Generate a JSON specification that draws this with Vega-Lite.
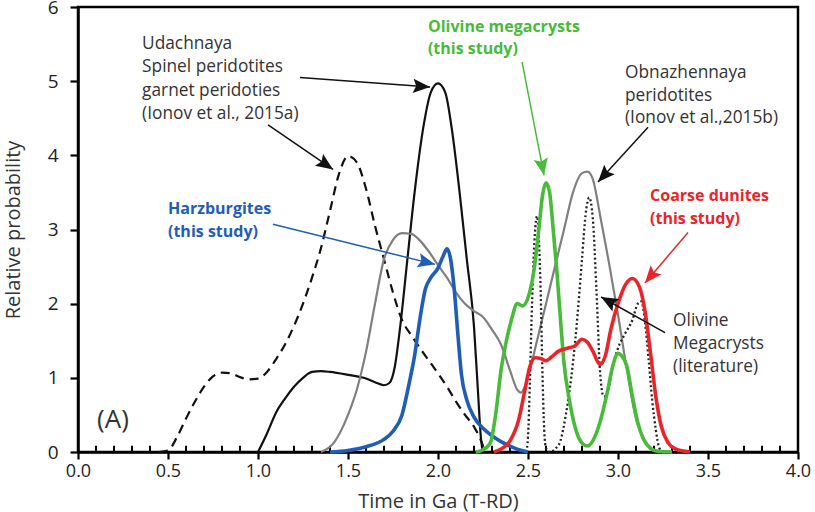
{
  "$schema": "https://vega.github.io/schema/vega-lite/v6.json",
  "width": 720,
  "height": 445,
  "autosize": "none",
  "padding": {"left": 78, "top": 7, "right": 17, "bottom": 60},
  "background": "white",
  "config": {
    "view": {"stroke": "black", "strokeWidth": 2.5},
    "font": "Open Sans",
    "axis": {"grid": false, "labelFont": "Open Sans", "titleFont": "Open Sans", "labelColor": "#222222", "titleColor": "#333333", "titleFontWeight": "normal", "domainColor": "black", "tickColor": "black"}
  },
  "datasets": {
    "curves": [
      {"s": "spinel", "t": 0.45, "p": 0}, {"s": "spinel", "t": 0.5, "p": 0.02}, {"s": "spinel", "t": 0.55, "p": 0.2}, {"s": "spinel", "t": 0.6, "p": 0.45},
      {"s": "spinel", "t": 0.65, "p": 0.68}, {"s": "spinel", "t": 0.7, "p": 0.88}, {"s": "spinel", "t": 0.75, "p": 1.02}, {"s": "spinel", "t": 0.8, "p": 1.07},
      {"s": "spinel", "t": 0.85, "p": 1.06}, {"s": "spinel", "t": 0.9, "p": 1.01}, {"s": "spinel", "t": 0.95, "p": 0.98}, {"s": "spinel", "t": 1.0, "p": 0.99},
      {"s": "spinel", "t": 1.05, "p": 1.08}, {"s": "spinel", "t": 1.1, "p": 1.25}, {"s": "spinel", "t": 1.15, "p": 1.45}, {"s": "spinel", "t": 1.2, "p": 1.7},
      {"s": "spinel", "t": 1.25, "p": 2.0}, {"s": "spinel", "t": 1.3, "p": 2.35}, {"s": "spinel", "t": 1.35, "p": 2.75}, {"s": "spinel", "t": 1.4, "p": 3.25},
      {"s": "spinel", "t": 1.45, "p": 3.75}, {"s": "spinel", "t": 1.5, "p": 3.99}, {"s": "spinel", "t": 1.55, "p": 3.9}, {"s": "spinel", "t": 1.6, "p": 3.55},
      {"s": "spinel", "t": 1.65, "p": 3.05}, {"s": "spinel", "t": 1.7, "p": 2.6}, {"s": "spinel", "t": 1.75, "p": 2.15}, {"s": "spinel", "t": 1.8, "p": 1.78},
      {"s": "spinel", "t": 1.85, "p": 1.58}, {"s": "spinel", "t": 1.9, "p": 1.4}, {"s": "spinel", "t": 1.95, "p": 1.23}, {"s": "spinel", "t": 2.0, "p": 1.06},
      {"s": "spinel", "t": 2.05, "p": 0.88}, {"s": "spinel", "t": 2.1, "p": 0.68}, {"s": "spinel", "t": 2.15, "p": 0.5}, {"s": "spinel", "t": 2.2, "p": 0.34},
      {"s": "spinel", "t": 2.25, "p": 0.08}, {"s": "spinel", "t": 2.26, "p": 0},

      {"s": "garnet", "t": 1.0, "p": 0}, {"s": "garnet", "t": 1.05, "p": 0.25}, {"s": "garnet", "t": 1.1, "p": 0.53}, {"s": "garnet", "t": 1.15, "p": 0.72},
      {"s": "garnet", "t": 1.2, "p": 0.88}, {"s": "garnet", "t": 1.25, "p": 1.0}, {"s": "garnet", "t": 1.3, "p": 1.08}, {"s": "garnet", "t": 1.35, "p": 1.09},
      {"s": "garnet", "t": 1.4, "p": 1.08}, {"s": "garnet", "t": 1.5, "p": 1.04}, {"s": "garnet", "t": 1.6, "p": 0.99}, {"s": "garnet", "t": 1.65, "p": 0.94},
      {"s": "garnet", "t": 1.7, "p": 0.9}, {"s": "garnet", "t": 1.73, "p": 0.93}, {"s": "garnet", "t": 1.76, "p": 1.15}, {"s": "garnet", "t": 1.79, "p": 1.69},
      {"s": "garnet", "t": 1.83, "p": 2.6}, {"s": "garnet", "t": 1.87, "p": 3.5}, {"s": "garnet", "t": 1.92, "p": 4.4}, {"s": "garnet", "t": 1.96, "p": 4.85},
      {"s": "garnet", "t": 2.0, "p": 4.97}, {"s": "garnet", "t": 2.04, "p": 4.85}, {"s": "garnet", "t": 2.08, "p": 4.3}, {"s": "garnet", "t": 2.12, "p": 3.5},
      {"s": "garnet", "t": 2.16, "p": 2.6}, {"s": "garnet", "t": 2.2, "p": 1.69}, {"s": "garnet", "t": 2.22, "p": 0.9}, {"s": "garnet", "t": 2.24, "p": 0.15},
      {"s": "garnet", "t": 2.25, "p": 0},

      {"s": "obn", "t": 1.35, "p": 0}, {"s": "obn", "t": 1.42, "p": 0.12}, {"s": "obn", "t": 1.5, "p": 0.5}, {"s": "obn", "t": 1.55, "p": 0.85},
      {"s": "obn", "t": 1.6, "p": 1.35}, {"s": "obn", "t": 1.65, "p": 2.0}, {"s": "obn", "t": 1.7, "p": 2.6}, {"s": "obn", "t": 1.75, "p": 2.86},
      {"s": "obn", "t": 1.8, "p": 2.95}, {"s": "obn", "t": 1.85, "p": 2.94}, {"s": "obn", "t": 1.9, "p": 2.85}, {"s": "obn", "t": 1.95, "p": 2.7},
      {"s": "obn", "t": 2.0, "p": 2.52}, {"s": "obn", "t": 2.05, "p": 2.35}, {"s": "obn", "t": 2.1, "p": 2.15}, {"s": "obn", "t": 2.15, "p": 2.0},
      {"s": "obn", "t": 2.2, "p": 1.9}, {"s": "obn", "t": 2.25, "p": 1.82}, {"s": "obn", "t": 2.3, "p": 1.65}, {"s": "obn", "t": 2.35, "p": 1.45},
      {"s": "obn", "t": 2.4, "p": 1.1}, {"s": "obn", "t": 2.44, "p": 0.84}, {"s": "obn", "t": 2.46, "p": 0.8}, {"s": "obn", "t": 2.49, "p": 0.93},
      {"s": "obn", "t": 2.55, "p": 1.5}, {"s": "obn", "t": 2.6, "p": 2.0}, {"s": "obn", "t": 2.65, "p": 2.5}, {"s": "obn", "t": 2.7, "p": 3.0},
      {"s": "obn", "t": 2.75, "p": 3.5}, {"s": "obn", "t": 2.8, "p": 3.76}, {"s": "obn", "t": 2.83, "p": 3.78}, {"s": "obn", "t": 2.86, "p": 3.68},
      {"s": "obn", "t": 2.9, "p": 3.2}, {"s": "obn", "t": 2.95, "p": 2.55}, {"s": "obn", "t": 3.0, "p": 1.85}, {"s": "obn", "t": 3.05, "p": 1.1},
      {"s": "obn", "t": 3.1, "p": 0.45}, {"s": "obn", "t": 3.15, "p": 0.15}, {"s": "obn", "t": 3.2, "p": 0.03}, {"s": "obn", "t": 3.25, "p": 0},

      {"s": "olmeg_lit", "t": 2.49, "p": 0}, {"s": "olmeg_lit", "t": 2.5, "p": 0.2}, {"s": "olmeg_lit", "t": 2.51, "p": 0.9}, {"s": "olmeg_lit", "t": 2.52, "p": 1.8},
      {"s": "olmeg_lit", "t": 2.535, "p": 2.8}, {"s": "olmeg_lit", "t": 2.55, "p": 3.18}, {"s": "olmeg_lit", "t": 2.56, "p": 2.9}, {"s": "olmeg_lit", "t": 2.57, "p": 2.2},
      {"s": "olmeg_lit", "t": 2.58, "p": 1.1}, {"s": "olmeg_lit", "t": 2.59, "p": 0.3}, {"s": "olmeg_lit", "t": 2.6, "p": 0.05}, {"s": "olmeg_lit", "t": 2.62, "p": 0},
      {"s": "olmeg_lit", "t": 2.65, "p": 0.04}, {"s": "olmeg_lit", "t": 2.68, "p": 0.15}, {"s": "olmeg_lit", "t": 2.71, "p": 0.5}, {"s": "olmeg_lit", "t": 2.74, "p": 1.0},
      {"s": "olmeg_lit", "t": 2.77, "p": 1.7}, {"s": "olmeg_lit", "t": 2.8, "p": 2.6}, {"s": "olmeg_lit", "t": 2.82, "p": 3.2}, {"s": "olmeg_lit", "t": 2.84, "p": 3.43},
      {"s": "olmeg_lit", "t": 2.86, "p": 3.15}, {"s": "olmeg_lit", "t": 2.88, "p": 2.2}, {"s": "olmeg_lit", "t": 2.9, "p": 1.1}, {"s": "olmeg_lit", "t": 2.92, "p": 0.75},
      {"s": "olmeg_lit", "t": 2.94, "p": 0.78}, {"s": "olmeg_lit", "t": 2.97, "p": 1.15}, {"s": "olmeg_lit", "t": 3.0, "p": 1.4}, {"s": "olmeg_lit", "t": 3.04, "p": 1.6},
      {"s": "olmeg_lit", "t": 3.08, "p": 1.78}, {"s": "olmeg_lit", "t": 3.11, "p": 2.0}, {"s": "olmeg_lit", "t": 3.13, "p": 2.03}, {"s": "olmeg_lit", "t": 3.15, "p": 1.75},
      {"s": "olmeg_lit", "t": 3.17, "p": 1.25}, {"s": "olmeg_lit", "t": 3.19, "p": 0.7}, {"s": "olmeg_lit", "t": 3.21, "p": 0.3}, {"s": "olmeg_lit", "t": 3.23, "p": 0.05},
      {"s": "olmeg_lit", "t": 3.25, "p": 0},

      {"s": "harz", "t": 1.4, "p": 0}, {"s": "harz", "t": 1.5, "p": 0.02}, {"s": "harz", "t": 1.6, "p": 0.07}, {"s": "harz", "t": 1.7, "p": 0.17},
      {"s": "harz", "t": 1.75, "p": 0.28}, {"s": "harz", "t": 1.8, "p": 0.5}, {"s": "harz", "t": 1.84, "p": 0.93}, {"s": "harz", "t": 1.87, "p": 1.3},
      {"s": "harz", "t": 1.9, "p": 1.8}, {"s": "harz", "t": 1.93, "p": 2.2}, {"s": "harz", "t": 1.96, "p": 2.35}, {"s": "harz", "t": 2.0, "p": 2.48},
      {"s": "harz", "t": 2.03, "p": 2.65}, {"s": "harz", "t": 2.05, "p": 2.74}, {"s": "harz", "t": 2.07, "p": 2.6}, {"s": "harz", "t": 2.09, "p": 2.2},
      {"s": "harz", "t": 2.11, "p": 1.6}, {"s": "harz", "t": 2.13, "p": 1.05}, {"s": "harz", "t": 2.16, "p": 0.7}, {"s": "harz", "t": 2.2, "p": 0.47},
      {"s": "harz", "t": 2.25, "p": 0.32}, {"s": "harz", "t": 2.3, "p": 0.22}, {"s": "harz", "t": 2.35, "p": 0.14}, {"s": "harz", "t": 2.4, "p": 0.08},
      {"s": "harz", "t": 2.45, "p": 0.03}, {"s": "harz", "t": 2.5, "p": 0},

      {"s": "olmeg", "t": 2.21, "p": 0}, {"s": "olmeg", "t": 2.25, "p": 0.03}, {"s": "olmeg", "t": 2.29, "p": 0.12}, {"s": "olmeg", "t": 2.32, "p": 0.5},
      {"s": "olmeg", "t": 2.35, "p": 1.1}, {"s": "olmeg", "t": 2.38, "p": 1.5}, {"s": "olmeg", "t": 2.41, "p": 1.8}, {"s": "olmeg", "t": 2.44, "p": 2.0},
      {"s": "olmeg", "t": 2.47, "p": 1.97}, {"s": "olmeg", "t": 2.5, "p": 2.08}, {"s": "olmeg", "t": 2.53, "p": 2.4}, {"s": "olmeg", "t": 2.56, "p": 3.0},
      {"s": "olmeg", "t": 2.58, "p": 3.45}, {"s": "olmeg", "t": 2.6, "p": 3.63}, {"s": "olmeg", "t": 2.62, "p": 3.5}, {"s": "olmeg", "t": 2.64, "p": 3.0},
      {"s": "olmeg", "t": 2.66, "p": 2.45}, {"s": "olmeg", "t": 2.68, "p": 1.8}, {"s": "olmeg", "t": 2.7, "p": 1.2}, {"s": "olmeg", "t": 2.73, "p": 0.7},
      {"s": "olmeg", "t": 2.76, "p": 0.35}, {"s": "olmeg", "t": 2.8, "p": 0.12}, {"s": "olmeg", "t": 2.83, "p": 0.08}, {"s": "olmeg", "t": 2.86, "p": 0.15},
      {"s": "olmeg", "t": 2.9, "p": 0.4}, {"s": "olmeg", "t": 2.94, "p": 0.8}, {"s": "olmeg", "t": 2.97, "p": 1.15}, {"s": "olmeg", "t": 3.0, "p": 1.33},
      {"s": "olmeg", "t": 3.02, "p": 1.3}, {"s": "olmeg", "t": 3.05, "p": 1.15}, {"s": "olmeg", "t": 3.08, "p": 0.75}, {"s": "olmeg", "t": 3.11, "p": 0.4},
      {"s": "olmeg", "t": 3.14, "p": 0.18}, {"s": "olmeg", "t": 3.18, "p": 0.05}, {"s": "olmeg", "t": 3.22, "p": 0.01}, {"s": "olmeg", "t": 3.3, "p": 0},

      {"s": "dunite", "t": 2.31, "p": 0}, {"s": "dunite", "t": 2.35, "p": 0.04}, {"s": "dunite", "t": 2.4, "p": 0.15}, {"s": "dunite", "t": 2.45, "p": 0.45},
      {"s": "dunite", "t": 2.48, "p": 0.8}, {"s": "dunite", "t": 2.51, "p": 1.15}, {"s": "dunite", "t": 2.54, "p": 1.27}, {"s": "dunite", "t": 2.57, "p": 1.26},
      {"s": "dunite", "t": 2.6, "p": 1.23}, {"s": "dunite", "t": 2.63, "p": 1.28}, {"s": "dunite", "t": 2.67, "p": 1.36}, {"s": "dunite", "t": 2.72, "p": 1.4},
      {"s": "dunite", "t": 2.76, "p": 1.43}, {"s": "dunite", "t": 2.8, "p": 1.52}, {"s": "dunite", "t": 2.83, "p": 1.48}, {"s": "dunite", "t": 2.86, "p": 1.36},
      {"s": "dunite", "t": 2.9, "p": 1.18}, {"s": "dunite", "t": 2.93, "p": 1.3}, {"s": "dunite", "t": 2.96, "p": 1.65}, {"s": "dunite", "t": 3.0, "p": 2.0},
      {"s": "dunite", "t": 3.04, "p": 2.25}, {"s": "dunite", "t": 3.08, "p": 2.34}, {"s": "dunite", "t": 3.12, "p": 2.22}, {"s": "dunite", "t": 3.15, "p": 1.9},
      {"s": "dunite", "t": 3.18, "p": 1.35}, {"s": "dunite", "t": 3.21, "p": 0.75}, {"s": "dunite", "t": 3.24, "p": 0.35}, {"s": "dunite", "t": 3.28, "p": 0.12},
      {"s": "dunite", "t": 3.32, "p": 0.04}, {"s": "dunite", "t": 3.4, "p": 0}
    ],
    "minorTicks": [
      {"t": 0.1}, {"t": 0.2}, {"t": 0.3}, {"t": 0.4}, {"t": 0.6}, {"t": 0.7}, {"t": 0.8}, {"t": 0.9},
      {"t": 1.1}, {"t": 1.2}, {"t": 1.3}, {"t": 1.4}, {"t": 1.6}, {"t": 1.7}, {"t": 1.8}, {"t": 1.9},
      {"t": 2.1}, {"t": 2.2}, {"t": 2.3}, {"t": 2.4}, {"t": 2.6}, {"t": 2.7}, {"t": 2.8}, {"t": 2.9},
      {"t": 3.1}, {"t": 3.2}, {"t": 3.3}, {"t": 3.4}, {"t": 3.6}, {"t": 3.7}, {"t": 3.8}, {"t": 3.9}
    ],
    "arrows": [
      {"ref": "lit", "x1": 1.233, "y1": 5.05, "x2": 1.956, "y2": 4.92},
      {"ref": "lit", "x1": 1.056, "y1": 4.41, "x2": 1.417, "y2": 3.81},
      {"ref": "harz", "x1": 1.083, "y1": 3.07, "x2": 1.983, "y2": 2.53},
      {"ref": "olmeg", "x1": 2.467, "y1": 5.26, "x2": 2.589, "y2": 3.73},
      {"ref": "lit", "x1": 3.167, "y1": 4.38, "x2": 2.889, "y2": 3.64},
      {"ref": "dunite", "x1": 3.389, "y1": 2.96, "x2": 3.15, "y2": 2.28},
      {"ref": "lit", "x1": 3.261, "y1": 1.61, "x2": 2.906, "y2": 2.09}
    ],
    "notes": [
      {"ref": "lit", "x": 0.356, "y": 5.5, "text": "Udachnaya"},
      {"ref": "lit", "x": 0.356, "y": 5.19, "text": "Spinel peridotites"},
      {"ref": "lit", "x": 0.356, "y": 4.87, "text": "garnet peridoties"},
      {"ref": "lit", "x": 0.356, "y": 4.56, "text": "(Ionov et al., 2015a)"},
      {"ref": "lit", "x": 3.039, "y": 5.11, "text": "Obnazhennaya"},
      {"ref": "lit", "x": 3.039, "y": 4.8, "text": "peridotites"},
      {"ref": "lit", "x": 3.039, "y": 4.51, "text": "(Ionov et al.,2015b)"},
      {"ref": "lit", "x": 3.306, "y": 1.76, "text": "Olivine"},
      {"ref": "lit", "x": 3.306, "y": 1.45, "text": "Megacrysts"},
      {"ref": "lit", "x": 3.306, "y": 1.14, "text": "(literature)"}
    ],
    "studyNotes": [
      {"ref": "harz", "x": 0.5, "y": 3.27, "text": "Harzburgites"},
      {"ref": "harz", "x": 0.5, "y": 2.97, "text": "(this study)"},
      {"ref": "olmeg", "x": 1.944, "y": 5.73, "text": "Olivine megacrysts"},
      {"ref": "olmeg", "x": 1.944, "y": 5.43, "text": "(this study)"},
      {"ref": "dunite", "x": 3.178, "y": 3.45, "text": "Coarse dunites"},
      {"ref": "dunite", "x": 3.178, "y": 3.14, "text": "(this study)"}
    ],
    "panel": [{"x": 0.106, "y": 0.43, "text": "(A)"}]
  },
  "layer": [
    {
      "data": {"name": "curves"},
      "transform": [{"filter": "datum.s === 'spinel'"}],
      "mark": {"type": "line", "color": "#111111", "strokeWidth": 2.2, "strokeDash": [9, 6], "interpolate": "monotone"},
      "encoding": {
        "x": {"field": "t", "type": "quantitative", "scale": {"domain": [0, 4], "nice": false},
          "axis": {"values": [0, 0.5, 1, 1.5, 2, 2.5, 3, 3.5, 4], "format": ".1f", "title": "Time in Ga (T-RD)",
            "labelFontSize": 18, "titleFontSize": 20, "tickSize": 7, "tickWidth": 2.2, "domainWidth": 2.5,
            "labelPadding": 3, "titlePadding": 11, "labelFlush": false}},
        "y": {"field": "p", "type": "quantitative", "scale": {"domain": [0, 6], "nice": false},
          "axis": {"values": [0, 1, 2, 3, 4, 5, 6], "format": "d", "title": "Relative probability", "labelFontSize": 19, "titleFontSize": 20,
            "tickSize": 8, "tickWidth": 2.2, "domainWidth": 2.5, "labelPadding": 12, "titlePadding": 24, "labelFlush": false}}
      }
    },
    {
      "data": {"name": "minorTicks"},
      "mark": {"type": "rule", "color": "#000000", "strokeWidth": 2, "opacity": 1},
      "encoding": {
        "x": {"field": "t", "type": "quantitative"},
        "y": {"datum": 0, "type": "quantitative"},
        "y2": {"datum": 0.085}
      }
    },
    {
      "data": {"name": "curves"},
      "transform": [{"filter": "datum.s === 'garnet'"}],
      "mark": {"type": "line", "color": "#111111", "strokeWidth": 2.2, "interpolate": "monotone"},
      "encoding": {"x": {"field": "t", "type": "quantitative"}, "y": {"field": "p", "type": "quantitative"}}
    },
    {
      "data": {"name": "curves"},
      "transform": [{"filter": "datum.s === 'obn'"}],
      "mark": {"type": "line", "color": "#7f7f7f", "strokeWidth": 2.2, "interpolate": "monotone"},
      "encoding": {"x": {"field": "t", "type": "quantitative"}, "y": {"field": "p", "type": "quantitative"}}
    },
    {
      "data": {"name": "curves"},
      "transform": [{"filter": "datum.s === 'olmeg_lit'"}],
      "mark": {"type": "line", "color": "#222222", "strokeWidth": 2.3, "strokeDash": [2, 2.5], "interpolate": "monotone"},
      "encoding": {"x": {"field": "t", "type": "quantitative"}, "y": {"field": "p", "type": "quantitative"}}
    },
    {
      "data": {"name": "curves"},
      "transform": [{"filter": "datum.s === 'harz'"}],
      "mark": {"type": "line", "color": "#1f5db8", "strokeWidth": 3.6, "interpolate": "monotone"},
      "encoding": {"x": {"field": "t", "type": "quantitative"}, "y": {"field": "p", "type": "quantitative"}}
    },
    {
      "data": {"name": "curves"},
      "transform": [{"filter": "datum.s === 'olmeg'"}],
      "mark": {"type": "line", "color": "#48bb3a", "strokeWidth": 3.6, "interpolate": "monotone"},
      "encoding": {"x": {"field": "t", "type": "quantitative"}, "y": {"field": "p", "type": "quantitative"}}
    },
    {
      "data": {"name": "curves"},
      "transform": [{"filter": "datum.s === 'dunite'"}],
      "mark": {"type": "line", "color": "#e8262a", "strokeWidth": 3.6, "interpolate": "monotone"},
      "encoding": {"x": {"field": "t", "type": "quantitative"}, "y": {"field": "p", "type": "quantitative"}}
    },
    {
      "data": {"name": "arrows"},
      "mark": {"type": "rule", "strokeWidth": 1.5},
      "encoding": {
        "x": {"field": "x1", "type": "quantitative"},
        "y": {"field": "y1", "type": "quantitative"},
        "x2": {"field": "x2"},
        "y2": {"field": "y2"},
        "color": {"field": "ref", "type": "nominal", "legend": null,
          "scale": {"domain": ["lit", "harz", "olmeg", "dunite"], "range": ["#111111", "#1f5db8", "#48bb3a", "#e8262a"]}}
      }
    },
    {
      "data": {"name": "arrows"},
      "transform": [{"calculate": "atan2((datum.x2 - datum.x1) * 180, (datum.y2 - datum.y1) * 74.17) * 180 / PI", "as": "heading"}],
      "mark": {"type": "point", "shape": "M0,0L-0.42,1L0,0.82L0.42,1Z", "size": 1156, "filled": true, "opacity": 1, "strokeWidth": 0},
      "encoding": {
        "x": {"field": "x2", "type": "quantitative"},
        "y": {"field": "y2", "type": "quantitative"},
        "angle": {"field": "heading", "type": "quantitative", "scale": null},
        "color": {"field": "ref", "type": "nominal", "legend": null}
      }
    },
    {
      "data": {"name": "notes"},
      "mark": {"type": "text", "align": "left", "baseline": "middle", "font": "Open Sans", "fontSize": 17.3, "color": "#333333"},
      "encoding": {
        "x": {"field": "x", "type": "quantitative"},
        "y": {"field": "y", "type": "quantitative"},
        "text": {"field": "text"}
      }
    },
    {
      "data": {"name": "studyNotes"},
      "mark": {"type": "text", "align": "left", "baseline": "middle", "font": "Open Sans", "fontSize": 16, "fontWeight": "bold"},
      "encoding": {
        "x": {"field": "x", "type": "quantitative"},
        "y": {"field": "y", "type": "quantitative"},
        "text": {"field": "text"},
        "color": {"field": "ref", "type": "nominal", "legend": null}
      }
    },
    {
      "data": {"name": "panel"},
      "mark": {"type": "text", "align": "left", "baseline": "middle", "font": "Open Sans", "fontSize": 26, "color": "#333333"},
      "encoding": {
        "x": {"field": "x", "type": "quantitative"},
        "y": {"field": "y", "type": "quantitative"},
        "text": {"field": "text"}
      }
    }
  ]
}
